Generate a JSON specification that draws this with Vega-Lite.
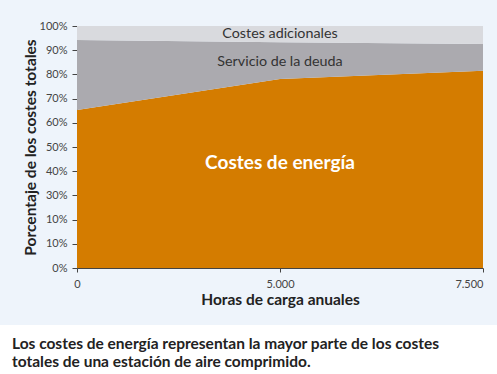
{
  "$schema": "https://vega.github.io/schema/vega-lite/v6.json",
  "background": "#EEF4FB",
  "padding": {"left": 0, "top": 20, "right": 0, "bottom": 0},
  "columns": 1,
  "spacing": 17,
  "config": {"view": {"stroke": null}, "font": "Lato", "axis": {"labelOverlap": false}},
  "concat": [
    {
      "spacing": 0,
      "hconcat": [
        {
          "width": 23,
          "height": 242,
          "data": {"values": []},
          "mark": "point"
        },
        {
          "width": 406,
          "height": 242,
          "data": {"values": [
            {"horas": "0", "serie": "Costes de energía", "orden": 1, "pct": 0.653},
            {"horas": "5.000", "serie": "Costes de energía", "orden": 1, "pct": 0.781},
            {"horas": "7.500", "serie": "Costes de energía", "orden": 1, "pct": 0.815},
            {"horas": "0", "serie": "Servicio de la deuda", "orden": 2, "pct": 0.289},
            {"horas": "5.000", "serie": "Servicio de la deuda", "orden": 2, "pct": 0.152},
            {"horas": "7.500", "serie": "Servicio de la deuda", "orden": 2, "pct": 0.111},
            {"horas": "0", "serie": "Costes adicionales", "orden": 3, "pct": 0.058},
            {"horas": "5.000", "serie": "Costes adicionales", "orden": 3, "pct": 0.067},
            {"horas": "7.500", "serie": "Costes adicionales", "orden": 3, "pct": 0.074}
          ]},
          "encoding": {
            "x": {"field": "horas", "type": "ordinal", "sort": ["0", "5.000", "7.500"],
              "scale": {"type": "point", "padding": 0},
              "axis": {"title": "Horas de carga anuales", "labelAngle": 0, "labelFontSize": 11, "labelColor": "#444",
                "labelAlign": {"condition": {"test": "datum.value == '7.500'", "value": "right"}, "value": "center"},
                "domainColor": "#444", "tickColor": "#444", "tickSize": 4, "labelPadding": 6,
                "titleFontSize": 15.5, "titleFontWeight": "bold", "titleColor": "#222", "titlePadding": 3}},
            "y": {"field": "pct", "type": "quantitative",
              "scale": {"domain": [0, 1], "nice": false},
              "axis": {"title": "Porcentaje de los costes totales", "values": [0, 0.1, 0.2, 0.3, 0.4, 0.5, 0.6, 0.7, 0.8, 0.9, 1],
                "format": ".0%", "labelExpr": "datum.value == 0.2 ? '10%' : datum.label",
                "labelOverlap": false, "labelFlush": false,
                "labelFontSize": 11, "labelColor": "#444", "grid": false,
                "domainColor": "#444", "tickColor": "#444", "tickSize": 5, "labelPadding": 5,
                "titleFontSize": 15.5, "titleFontWeight": "bold", "titleColor": "#222", "titlePadding": 1}}
          },
          "layer": [
            {
              "mark": {"type": "area", "interpolate": "linear"},
              "encoding": {
                "y": {"field": "pct", "type": "quantitative", "stack": "zero"},
                "color": {"field": "serie", "type": "nominal",
                  "scale": {"domain": ["Costes de energía", "Servicio de la deuda", "Costes adicionales"], "range": ["#D47C00", "#ABAAAF", "#D9DADE"]},
                  "legend": null},
                "order": {"field": "orden", "type": "quantitative"}
              }
            },
            {
              "data": {"values": [
                {"horas": "5.000", "pct": 0.967, "texto": "Costes adicionales"},
                {"horas": "5.000", "pct": 0.851, "texto": "Servicio de la deuda"}
              ]},
              "mark": {"type": "text", "fontSize": 14.3, "color": "#333", "baseline": "middle"},
              "encoding": {
                "text": {"field": "texto"}
              }
            },
            {
              "data": {"values": [
                {"horas": "5.000", "pct": 0.434, "texto": "Costes de energía"}
              ]},
              "mark": {"type": "text", "fontSize": 19, "fontWeight": "bold", "color": "white", "baseline": "middle"},
              "encoding": {
                "text": {"field": "texto"}
              }
            }
          ]
        }
      ]
    },
    {
      "width": 497,
      "height": 52,
      "view": {"fill": "white", "stroke": null},
      "data": {"values": [{"caption": "Los costes de energía representan la mayor parte de los costes\ntotales de una estación de aire comprimido."}]},
      "mark": {"type": "text", "align": "left", "baseline": "alphabetic", "lineBreak": "\n", "lineHeight": 18, "fontSize": 15.5, "fontWeight": "bold", "color": "#222", "dx": -236.5, "dy": -2},
      "encoding": {"text": {"field": "caption"}}
    }
  ]
}
